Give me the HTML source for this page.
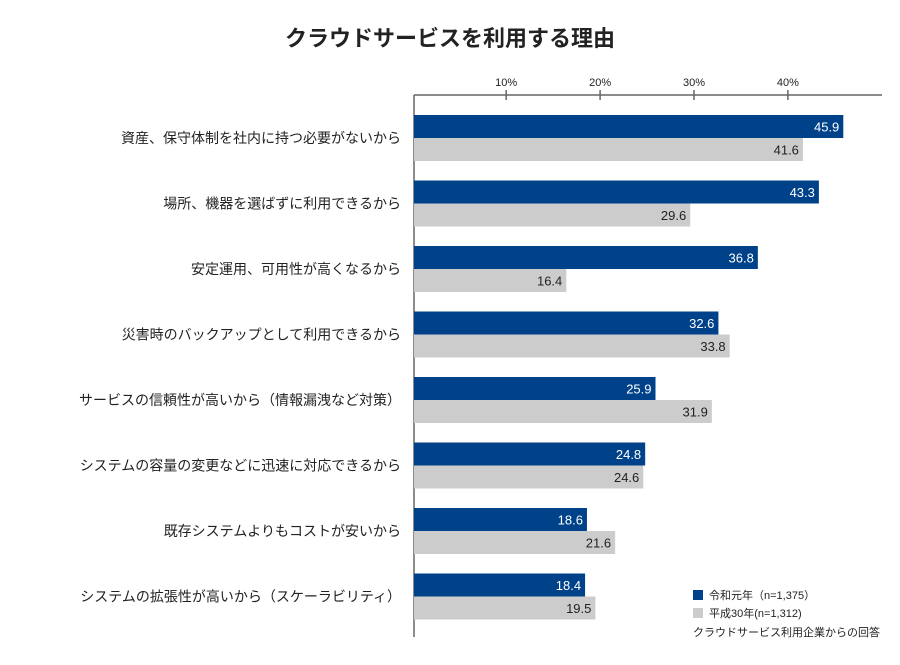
<!DOCTYPE html>
<html><head><meta charset="utf-8"><style>
body{margin:0;background:#fff;font-family:"Liberation Sans","Noto Sans CJK JP",sans-serif;}
svg text{font-family:"Liberation Sans","Noto Sans CJK JP",sans-serif;}
</style></head><body>
<svg id="chart" width="900" height="660" xmlns="http://www.w3.org/2000/svg">
<text x="450" y="46" text-anchor="middle" font-size="22" font-weight="bold" fill="#222">クラウドサービスを利用する理由</text>
<g id="axis"></g><g id="bars"></g>
<g>
<rect x="693" y="590" width="10" height="10" fill="#00428a"/>
<text x="709" y="599" font-size="11" fill="#222">令和元年（n=1,375）</text>
<rect x="693" y="608" width="10" height="10" fill="#cccccc"/>
<text x="709" y="617" font-size="11" fill="#222">平成30年(n=1,312)</text>
<text x="693" y="636" font-size="11" fill="#222">クラウドサービス利用企業からの回答</text>
</g>
</svg>
<script>
const categories=["資産、保守体制を社内に持つ必要がないから","場所、機器を選ばずに利用できるから","安定運用、可用性が高くなるから","災害時のバックアップとして利用できるから","サービスの信頼性が高いから（情報漏洩など対策）","システムの容量の変更などに迅速に対応できるから","既存システムよりもコストが安いから","システムの拡張性が高いから（スケーラビリティ）"];
const seriesReiwa=[45.9,43.3,36.8,32.6,25.9,24.8,18.6,18.4];
const seriesHeisei=[41.6,29.6,16.4,33.8,31.9,24.6,21.6,19.5];
const tickValues=[10,20,30,40];
const tickLabels=["10%","20%","30%","40%"];
const NS="http://www.w3.org/2000/svg";
const x0=412.3, pxPer=9.39, rowTop=115, rowStep=65.5, barH=23;
const xs=v=>x0+v*pxPer;
function mk(tag,attrs,parent){const e=document.createElementNS(NS,tag);for(const k in attrs)e.setAttribute(k,attrs[k]);parent.appendChild(e);return e;}
const axis=document.getElementById('axis'), bars=document.getElementById('bars');
let l=mk('line',{x1:414,y1:95,x2:882,y2:95,stroke:'#666','stroke-width':1.5},axis);


l=mk('line',{x1:414,y1:95,x2:414,y2:637,stroke:'#666','stroke-width':1.5},axis);


tickValues.forEach((v,i)=>{
 const t=mk('line',{x1:xs(v),y1:90,x2:xs(v),y2:100,stroke:'#666','stroke-width':1.5},axis);
 
 
 const tx=mk('text',{x:xs(v),y:86,'text-anchor':'middle','font-size':11,fill:'#222'},axis);
 tx.textContent=tickLabels[i];
 
 
});
categories.forEach((c,i)=>{
 const y=rowTop+i*rowStep;
 const lab=mk('text',{x:401,y:y+28,'text-anchor':'end','font-size':14,fill:'#222'},bars);
 lab.textContent=c;
 
 
 const b1=mk('rect',{x:414,y:y,width:xs(seriesReiwa[i])-414,height:barH,fill:'#00428a'},bars);
 
 
 const v1=mk('text',{x:xs(seriesReiwa[i])-4,y:y+16.5,'text-anchor':'end','font-size':13,fill:'#fff'},bars);
 v1.textContent=seriesReiwa[i].toFixed(1);
 
 
 const b2=mk('rect',{x:414,y:y+barH,width:xs(seriesHeisei[i])-414,height:barH,fill:'#cccccc'},bars);
 
 
 const v2=mk('text',{x:xs(seriesHeisei[i])-4,y:y+barH+16.5,'text-anchor':'end','font-size':13,fill:'#222'},bars);
 v2.textContent=seriesHeisei[i].toFixed(1);
 
 
});
</script>
</body></html>
